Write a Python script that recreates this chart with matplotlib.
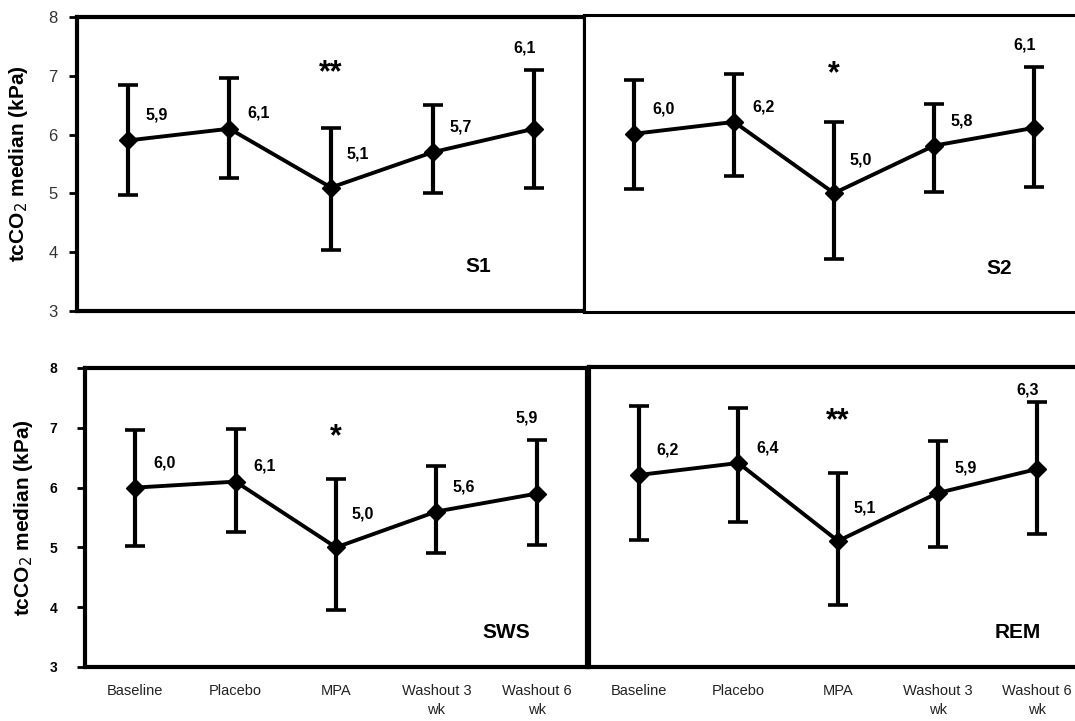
import matplotlib
matplotlib.use("Agg")
import matplotlib.pyplot as plt

plt.rcParams['font.family'] = ['Liberation Sans', 'DejaVu Sans']

categories = ["Baseline", "Placebo", "MPA", "Washout 3\nwk", "Washout 6\nwk"]

# medians with upper / lower ends of the bars (kPa)
s1_median = [5.9, 6.1, 5.1, 5.7, 6.1]
s1_upper = [6.84, 6.96, 6.11, 6.50, 7.10]
s1_lower = [4.97, 5.26, 4.04, 5.00, 5.09]

s2_median = [6.0, 6.2, 5.0, 5.8, 6.1]
s2_upper = [6.91, 7.01, 6.20, 6.50, 7.12]
s2_lower = [5.07, 5.29, 3.89, 5.02, 5.10]

sws_median = [6.0, 6.1, 5.0, 5.6, 5.9]
sws_upper = [6.96, 6.98, 6.14, 6.36, 6.80]
sws_lower = [5.02, 5.26, 3.95, 4.91, 5.04]

rem_median = [6.2, 6.4, 5.1, 5.9, 6.3]
rem_upper = [7.35, 7.31, 6.23, 6.76, 7.41]
rem_lower = [5.12, 5.42, 4.04, 5.00, 5.22]

stage_names = ["S1", "S2", "SWS", "REM"]
significance = ["**", "*", "*", "**"]

fig = plt.figure(figsize=(10.75, 7.21), dpi=100)

# [left, bottom, width, height], spine width, star height, stage label spot
panels = [
    ([0.0716, 0.5687, 0.4726, 0.4077], 3.0, 7.05, (0.79, 0.15), s1_median, s1_upper, s1_lower),
    ([0.5433, 0.5673, 0.4651, 0.4119], 2.2, 7.0, (0.83, 0.146), s2_median, s2_upper, s2_lower),
    ([0.0791, 0.0749, 0.4670, 0.4147], 3.0, 6.85, (0.84, 0.116), sws_median, sws_upper, sws_lower),
    ([0.5479, 0.0749, 0.4633, 0.4161], 3.0, 7.1, (0.86, 0.116), rem_median, rem_upper, rem_lower),
]

# label offsets in points (right, up) for the first four points
label_off = [(21, 18), (21, 11), (19, 24), (20, 18)]

x = list(range(len(categories)))

for i, (rect, lw, star_y, name_pos, med, up, lo) in enumerate(panels):
    ax = fig.add_axes(rect)
    ax.set_xlim(-0.5, 4.5)
    ax.set_ylim(3, 8)
    for sp in ax.spines.values():
        sp.set_linewidth(lw)
        sp.set_color('black')

    yerr = [[m - l for m, l in zip(med, lo)], [u - m for m, u in zip(med, up)]]
    ax.errorbar(x, med, yerr=yerr, color='black', lw=2.8, marker='D', ms=9,
                elinewidth=3.0, capsize=7, capthick=2.6, zorder=3)

    for j, v in enumerate(med):
        txt = f"{v:.1f}".replace(".", ",")
        if j < 4:
            ax.annotate(txt, (x[j], v), xytext=label_off[j], textcoords='offset points',
                        ha='center', va='center', fontsize=11.5, fontweight='bold')
        else:
            dy = 9 if i == 3 else 16
            ax.annotate(txt, (x[j], up[j]), xytext=(-7, dy), textcoords='offset points',
                        ha='center', va='center', fontsize=11.5, fontweight='bold')

    ax.text(2, star_y, significance[i], ha='center', va='center',
            fontsize=22, fontweight='bold')
    ax.text(name_pos[0], name_pos[1], stage_names[i], transform=ax.transAxes,
            ha='center', va='center', fontsize=15, fontweight='bold')

    # y axis only on the left column
    if i == 0:
        ax.set_yticks([3, 4, 5, 6, 7, 8])
        ax.tick_params(axis='y', length=6, width=2, pad=8, labelsize=12, labelcolor='#333333')
        ax.set_ylabel("tcCO$_2$ median (kPa)", fontsize=15, fontweight='bold')
        ax.yaxis.set_label_coords(-0.0925, 0.5)
    elif i == 2:
        ax.set_yticks([3, 4, 5, 6, 7, 8])
        ax.set_yticklabels(["3", "4", "5", "6", "7", "8"], fontweight='bold')
        ax.tick_params(axis='y', length=6, width=2, pad=14, labelsize=10)
        ax.set_ylabel("tcCO$_2$ median (kPa)", fontsize=15, fontweight='bold')
        ax.yaxis.set_label_coords(-0.0996, 0.5)
    else:
        ax.set_yticks([])

    if i >= 2:
        ax.set_xticks(x)
        ax.set_xticklabels(categories, fontsize=10.5, linespacing=1.5, color='#222222')
        ax.tick_params(axis='x', length=0, pad=12)
    else:
        ax.set_xticks([])

fig.savefig("out.png", dpi=100, facecolor='white')
